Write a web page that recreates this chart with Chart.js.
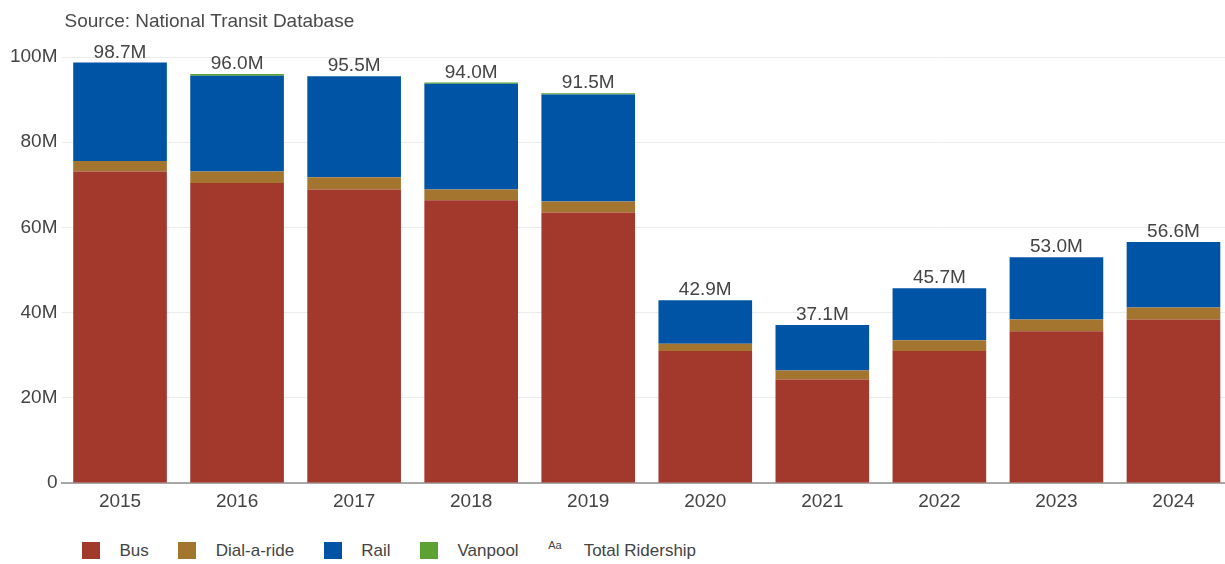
<!DOCTYPE html>
<html>
<head>
<meta charset="utf-8">
<script src="https://cdn.jsdelivr.net/npm/chart.js@4"></script>
<style>
  html, body { margin: 0; padding: 0; background: #fff; overflow: hidden; }
  #wrap { position: relative; width: 1232px; height: 530px; }
  #legend {
    position: absolute; left: 82px; top: 542px;
    display: flex; align-items: center; gap: 29.5px;
    font: 17px "Liberation Sans", Arial, sans-serif; color: #444;
  }
  #legend .item { display: flex; align-items: center; height: 17px; }
  #legend .box { width: 18px; height: 17px; margin-right: 19.5px; }
  #legend .aa { font-size: 11px; margin-right: 22px; position: relative; top: -6px; }
</style>
</head>
<body>
<div id="wrap"><canvas id="ridership"></canvas></div>
<div id="legend"></div>
<script>
// Annual ridership by mode, millions of unlinked trips
const years = ['2015', '2016', '2017', '2018', '2019', '2020', '2021', '2022', '2023', '2024'];
const bus = [73.1, 70.4, 68.9, 66.4, 63.5, 31.0, 24.3, 31.0, 35.6, 38.4];
const dialARide = [2.5, 2.7, 2.9, 2.5, 2.6, 1.7, 2.1, 2.5, 2.8, 2.8];
const rail = [23.1, 22.5, 23.7, 24.8, 25.1, 10.2, 10.7, 12.2, 14.6, 15.4];
const vanpool = [0, 0.4, 0, 0.3, 0.3, 0, 0, 0, 0, 0];
const yTicks = [0, 20, 40, 60, 80, 100];

const colors = {
    bus: '#a2392c',
    dial: '#a3752f',
    rail: '#0054a5',
    vanpool: '#5ba232'
};
const textColor = '#444';
const font = "'Liberation Sans', Arial, sans-serif";

// totals above each stack + source line
const totalsPlugin = {
    id: 'totals',
    afterDatasetsDraw(chart) {
        const ctx = chart.ctx;
        const x = chart.scales.x;
        const y = chart.scales.y;
        ctx.save();
        ctx.fillStyle = textColor;
        ctx.font = '19px ' + font;
        ctx.textAlign = 'center';
        ctx.textBaseline = 'alphabetic';
        years.forEach((yr, i) => {
            const total = chart.data.datasets.reduce((s, ds) => s + ds.data[i], 0);
            ctx.fillText(total.toFixed(1) + 'M', x.getPixelForValue(i), y.getPixelForValue(total) - 5);
        });
        ctx.textAlign = 'left';
        ctx.textBaseline = 'middle';
        ctx.fillStyle = '#4a4a4a';
        ctx.font = '19px ' + font;
        ctx.fillText('Source: National Transit Database', chart.chartArea.left + 3, 22);
        ctx.restore();
    }
};

const chart = new Chart(document.getElementById('ridership'), {
    type: 'bar',
    data: {
        labels: years,
        datasets: [
            { label: 'Bus', data: bus, backgroundColor: colors.bus },
            { label: 'Dial-a-ride', data: dialARide, backgroundColor: colors.dial },
            { label: 'Rail', data: rail, backgroundColor: colors.rail },
            { label: 'Vanpool', data: vanpool, backgroundColor: colors.vanpool }
        ]
    },
    options: {
        responsive: true,
        maintainAspectRatio: false,
        animation: false,
        layout: { padding: { top: 57, right: 0, left: 0, bottom: 0 } },
        datasets: { bar: { categoryPercentage: 0.8, barPercentage: 1, borderWidth: 0 } },
        plugins: {
            legend: { display: false },
            tooltip: { enabled: false }
        },
        scales: {
            x: {
                stacked: true,
                grid: { display: false, drawTicks: false },
                border: { display: true, color: '#a8a8a8', width: 2 },
                ticks: { color: textColor, font: { family: font, size: 19 }, padding: 7 },
                afterFit(scale) { scale.height = 47; }
            },
            y: {
                stacked: true,
                min: 0,
                max: 100,
                afterBuildTicks(scale) { scale.ticks = yTicks.map(v => ({ value: v })); },
                grid: { color: '#ececec', lineWidth: 1, drawTicks: false },
                border: { display: false },
                ticks: {
                    color: textColor,
                    font: { family: font, size: 19 },
                    padding: 4,
                    callback: v => v === 0 ? '0' : v + 'M'
                },
                afterFit(scale) { scale.width = 61.5; }
            }
        }
    },
    plugins: [totalsPlugin]
});

// legend row
const legend = document.getElementById('legend');
chart.data.datasets.forEach(ds => {
    const item = document.createElement('div');
    item.className = 'item';
    item.innerHTML = '<span class="box" style="background:' + ds.backgroundColor + '"></span><span>' + ds.label + '</span>';
    legend.appendChild(item);
});
const totalItem = document.createElement('div');
totalItem.className = 'item';
totalItem.innerHTML = '<span class="aa">Aa</span><span>Total Ridership</span>';
legend.appendChild(totalItem);
</script>
</body>
</html>
